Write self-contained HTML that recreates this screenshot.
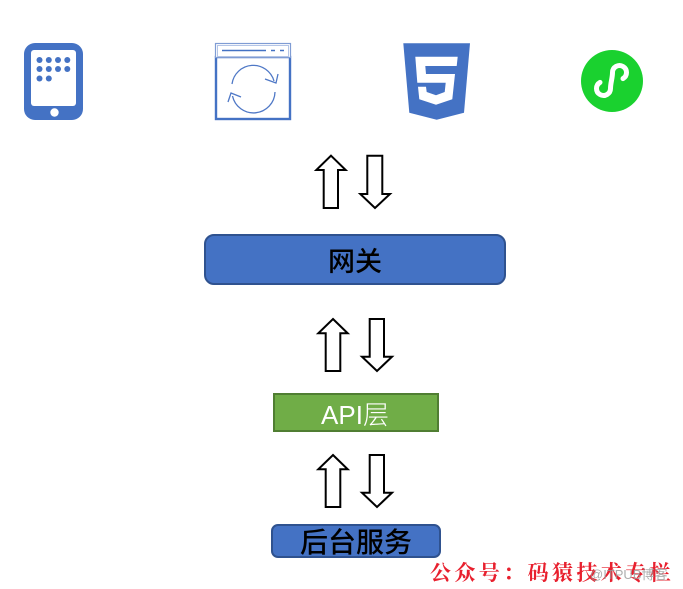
<!DOCTYPE html>
<html lang="zh">
<head>
<meta charset="utf-8">
<title>架构图</title>
<style>
html,body{margin:0;padding:0;background:#fff}
svg{display:block}
.b{fill:#fff;stroke:#000;stroke-width:2;stroke-linejoin:miter}
</style>
</head>
<body>
<svg width="683" height="589" viewBox="0 0 683 589" xmlns="http://www.w3.org/2000/svg">
<rect width="683" height="589" fill="#fff"/>

<!-- tablet -->
<rect x="24" y="43" width="59" height="77" rx="11" fill="#4472C4"/>
<rect x="31" y="50" width="45" height="56" rx="3" fill="#fff"/>
<circle cx="54.5" cy="112.5" r="4.2" fill="#fff"/>
<g fill="#4472C4">
<circle cx="39.5" cy="60" r="3"/><circle cx="48.8" cy="60" r="3"/><circle cx="58" cy="60" r="3"/><circle cx="67.3" cy="60" r="3"/>
<circle cx="39.5" cy="69" r="3"/><circle cx="48.8" cy="69" r="3"/><circle cx="58" cy="69" r="3"/><circle cx="67.3" cy="69" r="3"/>
<circle cx="39.5" cy="78.5" r="3"/><circle cx="48.8" cy="78.5" r="3"/>
</g>

<!-- browser window -->
<rect x="216" y="57" width="74" height="62" fill="#fff" stroke="#4472C4" stroke-width="2.4"/>
<rect x="215.5" y="43.5" width="75" height="14" fill="#fff" stroke="#7F9CD4" stroke-width="1.2"/>
<rect x="217.5" y="45.5" width="71" height="11" fill="none" stroke="#B4C5E6" stroke-width="1"/>
<path d="M222 50.5H266M271 50.5H275M280 50.5H284" stroke="#4472C4" stroke-width="1.4" fill="none"/>
<g fill="none" stroke="#4F78C6" stroke-width="1.3">
<path d="M232 84A21.5 21.5 0 0 1 274 81"/>
<path d="M275 92A21.5 21.5 0 0 1 232.5 96"/>
<path d="M265 79L276 83L278 74"/>
<path d="M228 102L231 93L241 97"/>
</g>

<!-- HTML5 shield -->
<path d="M403.3 43.3H470L464 112.7L436.7 119.7L409.3 112.7Z" fill="#4472C4"/>
<path d="M415.3 56.7H457.7L456.7 66H425.3L426 74H455L452.3 99.3L436 104.7L419.3 99.3L418 86.7H426L426.7 92L436 95.3L444.7 92L445.7 82.7H417.3Z" fill="#fff"/>

<!-- mini program -->
<circle cx="612" cy="81" r="31" fill="#1AD12F"/>
<path d="M600 82.4A7 7 0 1 0 610.5 88.5C610.5 83 612.5 78 612.5 72.5A7 7 0 1 1 623 78.6" fill="none" stroke="#fff" stroke-width="5" stroke-linecap="round"/>

<!-- arrows row 1 -->
<path class="b" d="M331 155.7L345.7 170H338V208H323.7V170H316.3Z"/>
<path class="b" d="M367.3 155.7H382.3V194H390L375 208L360.3 194H367.3Z"/>

<!-- gateway -->
<rect x="205" y="235" width="300" height="49" rx="9" fill="#4472C4" stroke="#2F528F" stroke-width="2"/>
<text x="355" y="271" font-size="27" text-anchor="middle" font-family="'Liberation Sans','Noto Sans CJK SC',sans-serif" font-weight="500" fill="#000">网关</text>

<!-- arrows row 2 -->
<path class="b" d="M333 319L347.7 333.3H340.3V371H325.7V333.3H318.3Z"/>
<path class="b" d="M369.7 319H384V356.7H392L377 371L362 356.7H369.7Z"/>

<!-- API -->
<rect x="274" y="394" width="164" height="37" fill="#70AD47" stroke="#507E32" stroke-width="2"/>
<text x="355" y="424" font-size="26" text-anchor="middle" font-family="'Liberation Sans','Noto Sans CJK SC',sans-serif" font-weight="300" fill="#fff">API层</text>

<!-- arrows row 3 -->
<path class="b" d="M333 455L347.7 469.3H340.3V507H325.7V469.3H318.3Z"/>
<path class="b" d="M369.7 455H384V492.7H392L377 507L362 492.7H369.7Z"/>

<!-- backend -->
<rect x="272" y="525" width="168" height="32" rx="6" fill="#4472C4" stroke="#2F528F" stroke-width="2"/>
<text x="356" y="552" font-size="28" text-anchor="middle" font-family="'Liberation Sans','Noto Sans CJK SC',sans-serif" font-weight="500" fill="#000">后台服务</text>

<!-- watermark -->
<text x="430" y="580" font-size="21" letter-spacing="3.4" font-weight="700" font-family="'Liberation Serif','Noto Serif CJK SC',serif" fill="#E8202E">公众号：码猿技术专栏</text>
<text x="590" y="579" font-size="13" font-family="'Liberation Sans','Noto Sans CJK SC',sans-serif" fill="#999" fill-opacity=".8">@ITPUB博客</text>
</svg>
</body>
</html>
